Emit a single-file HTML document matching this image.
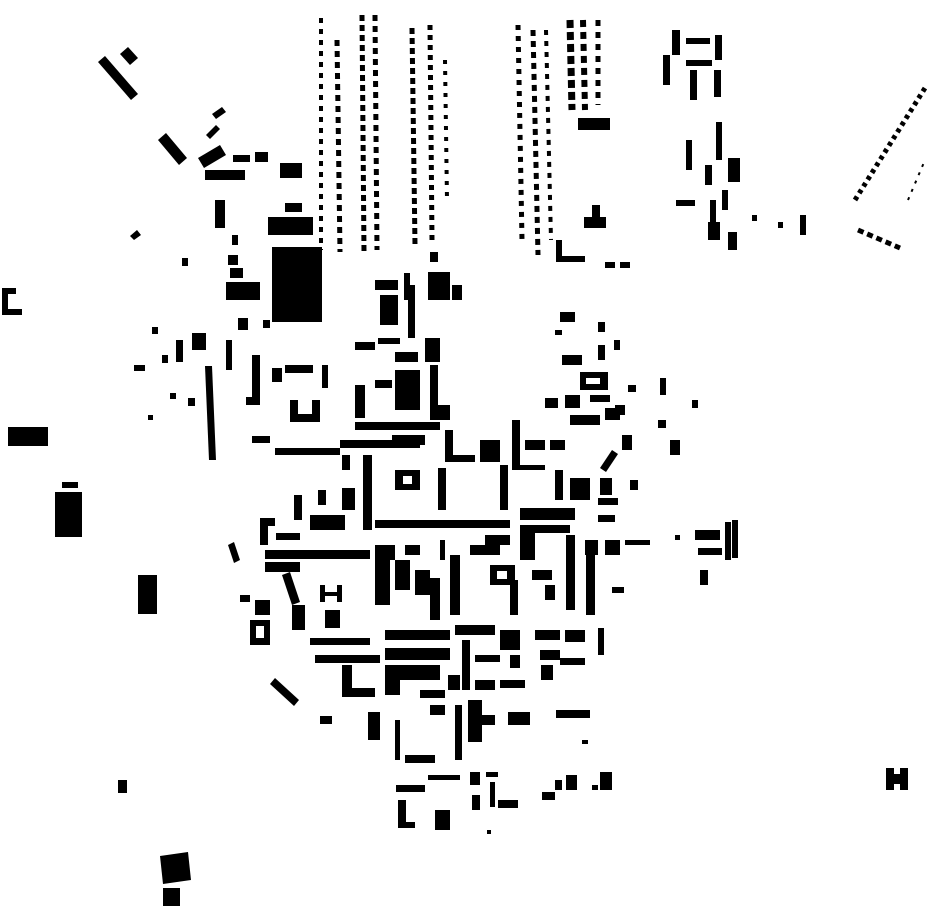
<!DOCTYPE html>
<html><head><meta charset="utf-8"><style>html,body{margin:0;padding:0;background:#fff}svg{display:block}</style></head>
<body>
<svg width="930" height="924" viewBox="0 0 930 924" xmlns="http://www.w3.org/2000/svg">
<g fill="#000" stroke="none">
<!-- NW -->
<polygon points="98,62 105,56 138,94 131,100"/>
<polygon points="120,54 128,47 138,58 130,65"/>
<polygon points="158,140 166,133 187,158 179,165"/>
<polygon points="198,158 220,145 226,155 204,168"/>
<polygon points="206,135 216,125 220,129 210,139"/>
<polygon points="212,114 222,107 226,112 216,119"/>
<rect x="205" y="170" width="40" height="10"/>
<rect x="233" y="155" width="17" height="7"/>
<rect x="255" y="152" width="13" height="10"/>
<rect x="280" y="163" width="22" height="15"/>
<rect x="215" y="200" width="10" height="28"/>
<rect x="285" y="203" width="17" height="9"/>
<rect x="268" y="217" width="45" height="18"/>
<rect x="272" y="247" width="50" height="75"/>
<polygon points="130,236 137,230 141,235 134,240"/>
<rect x="182" y="258" width="6" height="8"/>
<rect x="228" y="255" width="10" height="10"/>
<rect x="230" y="268" width="13" height="10"/>
<rect x="226" y="282" width="34" height="18"/>
<rect x="232" y="235" width="6" height="10"/>
<path d="M2,288h14v6h-8v15h14v6h-20z"/>
<rect x="238" y="318" width="10" height="12"/>
<rect x="263" y="320" width="7" height="8"/>
<rect x="152" y="327" width="6" height="7"/>
<rect x="176" y="340" width="7" height="22"/>
<rect x="192" y="333" width="14" height="17"/>
<rect x="134" y="365" width="11" height="6"/>
<rect x="162" y="355" width="6" height="8"/>
<polygon points="205,366 212,366 216,460 209,460"/>
<rect x="226" y="340" width="6" height="30"/>
<rect x="170" y="393" width="6" height="6"/>
<rect x="188" y="398" width="7" height="8"/>
<rect x="148" y="415" width="5" height="5"/>
<rect x="8" y="427" width="40" height="19"/>
<rect x="55" y="492" width="27" height="45"/>
<rect x="62" y="482" width="16" height="6"/>
<rect x="138" y="575" width="19" height="39"/>
<polygon points="228,545 234,542 240,560 234,563"/>
<rect x="118" y="780" width="9" height="13"/>
<polygon points="160,856 188,852 191,880 163,884"/>
<rect x="163" y="888" width="17" height="18"/>
</g>
<!-- dotted rows -->
<g stroke="#000" fill="none">
<line x1="321" y1="18" x2="321" y2="250" stroke-width="4" stroke-dasharray="5 6"/>
<line x1="337" y1="40" x2="340" y2="252" stroke-width="5" stroke-dasharray="6 5"/>
<line x1="362" y1="15" x2="364" y2="252" stroke-width="5" stroke-dasharray="6 4"/>
<line x1="375" y1="15" x2="377" y2="250" stroke-width="5" stroke-dasharray="6 5"/>
<line x1="412" y1="28" x2="415" y2="245" stroke-width="5" stroke-dasharray="6 4"/>
<line x1="430" y1="25" x2="432" y2="240" stroke-width="5" stroke-dasharray="5 5"/>
<line x1="445" y1="60" x2="447" y2="200" stroke-width="4" stroke-dasharray="4 7"/>
<line x1="518" y1="25" x2="522" y2="240" stroke-width="5" stroke-dasharray="5 6"/>
<line x1="533" y1="30" x2="538" y2="255" stroke-width="5" stroke-dasharray="6 5"/>
<line x1="546" y1="30" x2="551" y2="240" stroke-width="4" stroke-dasharray="5 6"/>
<line x1="570" y1="20" x2="572" y2="110" stroke-width="7" stroke-dasharray="8 4"/>
<line x1="583" y1="20" x2="585" y2="110" stroke-width="6" stroke-dasharray="7 5"/>
<line x1="598" y1="20" x2="598" y2="105" stroke-width="5" stroke-dasharray="6 6"/>
<line x1="855" y1="200" x2="925" y2="88" stroke-width="5" stroke-dasharray="4 4"/>
<line x1="908" y1="200" x2="925" y2="160" stroke-width="2" stroke-dasharray="3 6"/>
<line x1="858" y1="230" x2="900" y2="248" stroke-width="5" stroke-dasharray="6 4"/>
</g>
<g fill="#000">
<rect x="578" y="118" width="32" height="12"/>
<path d="M592,205h8v12h6v11h-22v-11h8z"/>
<path d="M556,240h6v16h23v6h-29z"/>
<rect x="605" y="262" width="10" height="6"/><rect x="620" y="262" width="10" height="6"/>
<!-- NE -->
<rect x="672" y="30" width="8" height="25"/>
<rect x="686" y="38" width="24" height="6"/>
<rect x="715" y="35" width="7" height="25"/>
<rect x="663" y="55" width="7" height="30"/>
<rect x="686" y="60" width="26" height="6"/>
<rect x="690" y="70" width="7" height="30"/>
<rect x="714" y="70" width="7" height="27"/>
<rect x="686" y="140" width="6" height="30"/>
<rect x="716" y="122" width="6" height="38"/>
<rect x="705" y="165" width="7" height="20"/>
<rect x="728" y="158" width="12" height="24"/>
<rect x="722" y="190" width="6" height="20"/>
<rect x="676" y="200" width="19" height="6"/>
<rect x="710" y="200" width="6" height="40"/>
<rect x="708" y="222" width="12" height="18"/>
<rect x="728" y="232" width="9" height="18"/>
<rect x="752" y="215" width="5" height="6"/>
<rect x="778" y="222" width="5" height="6"/>
<rect x="800" y="215" width="6" height="20"/>
<path d="M886,768h8v6h6v-6h8v22h-8v-6h-6v6h-8z"/>
<!-- centre -->
<rect x="375" y="280" width="23" height="10"/>
<rect x="380" y="295" width="18" height="30"/>
<rect x="404" y="273" width="6" height="27"/>
<rect x="408" y="285" width="7" height="53"/>
<rect x="428" y="272" width="22" height="28"/>
<rect x="452" y="285" width="10" height="15"/>
<rect x="430" y="252" width="8" height="10"/>
<rect x="355" y="342" width="20" height="8"/>
<rect x="378" y="338" width="22" height="6"/>
<rect x="395" y="352" width="23" height="10"/>
<rect x="425" y="338" width="15" height="24"/>
<path d="M252,355h8v50h-14v-8h6z"/>
<rect x="272" y="368" width="10" height="14"/>
<rect x="285" y="365" width="28" height="8"/>
<rect x="322" y="365" width="6" height="23"/>
<path d="M290,400h8v14h14v-14h8v22h-30z"/>
<rect x="355" y="385" width="10" height="33"/>
<rect x="375" y="380" width="17" height="8"/>
<rect x="395" y="370" width="25" height="40"/>
<rect x="430" y="365" width="8" height="55"/>
<rect x="433" y="405" width="17" height="15"/>
<rect x="355" y="422" width="85" height="8"/>
<rect x="252" y="436" width="18" height="7"/>
<rect x="275" y="448" width="65" height="7"/>
<rect x="340" y="440" width="80" height="8"/>
<rect x="392" y="435" width="33" height="10"/>
<path d="M445,430h8v25h22v7h-30z"/>
<rect x="480" y="440" width="20" height="22"/>
<path d="M512,420h8v45h25v5h-33z"/><rect x="525" y="440" width="20" height="10"/>
<rect x="550" y="440" width="15" height="10"/>
<rect x="570" y="415" width="30" height="10"/>
<rect x="605" y="408" width="15" height="12"/>
<rect x="622" y="435" width="10" height="15"/>
<polygon points="600,468 612,450 618,454 606,472"/>
<rect x="555" y="470" width="8" height="30"/><rect x="570" y="478" width="20" height="22"/>
<rect x="600" y="478" width="12" height="17"/>
<rect x="630" y="480" width="8" height="10"/>
<rect x="342" y="455" width="8" height="15"/>
<rect x="363" y="455" width="9" height="75"/>
<path d="M395,470h25v20h-25zM403,476v8h9v-8z" fill-rule="evenodd"/>
<rect x="438" y="468" width="8" height="42"/>
<rect x="500" y="465" width="8" height="45"/>
<rect x="294" y="495" width="8" height="25"/>
<rect x="318" y="490" width="8" height="15"/>
<rect x="342" y="488" width="13" height="22"/>
<rect x="310" y="515" width="35" height="15"/>
<path d="M260,518h15v8h-7v19h-8z"/>
<rect x="276" y="533" width="24" height="7"/>
<rect x="375" y="520" width="135" height="8"/>
<rect x="520" y="508" width="55" height="12"/>
<rect x="598" y="515" width="17" height="7"/>
<rect x="598" y="498" width="20" height="7"/>
<rect x="265" y="550" width="105" height="9"/>
<rect x="375" y="545" width="20" height="15"/>
<rect x="405" y="545" width="15" height="10"/>
<rect x="440" y="540" width="5" height="20"/>
<rect x="470" y="545" width="30" height="10"/>
<rect x="485" y="535" width="25" height="10"/>
<rect x="520" y="525" width="15" height="35"/>
<rect x="525" y="525" width="45" height="8"/>
<rect x="566" y="535" width="9" height="75"/>
<rect x="585" y="540" width="13" height="15"/>
<rect x="605" y="540" width="15" height="15"/>
<rect x="625" y="540" width="25" height="5"/>
<rect x="675" y="535" width="5" height="5"/>
<rect x="695" y="530" width="25" height="10"/>
<rect x="698" y="548" width="24" height="7"/>
<rect x="725" y="522" width="6" height="38"/>
<rect x="732" y="520" width="6" height="38"/>
<rect x="700" y="570" width="8" height="15"/>
<rect x="265" y="562" width="35" height="10"/>
<polygon points="282,575 290,572 300,602 292,605"/>
<path d="M320,585h5v7h12v-7h5v17h-5v-6h-12v6h-5z"/>
<rect x="375" y="558" width="15" height="47"/>
<rect x="395" y="560" width="15" height="30"/>
<rect x="415" y="570" width="15" height="25"/>
<rect x="430" y="578" width="10" height="42"/>
<rect x="450" y="555" width="10" height="60"/>
<path d="M490,565h25v20h-25zM497,571v8h10v-8z" fill-rule="evenodd"/>
<rect x="510" y="580" width="8" height="35"/>
<rect x="532" y="570" width="20" height="10"/>
<rect x="545" y="585" width="10" height="15"/>
<rect x="586" y="555" width="9" height="60"/>
<rect x="612" y="587" width="12" height="6"/>
<rect x="240" y="595" width="10" height="7"/>
<rect x="255" y="600" width="15" height="15"/>
<path d="M250,620h20v25h-20zM256,626v12h8v-12z" fill-rule="evenodd"/>
<rect x="292" y="605" width="13" height="25"/>
<rect x="325" y="610" width="15" height="18"/>
<rect x="310" y="638" width="60" height="7"/>
<rect x="385" y="630" width="65" height="10"/>
<rect x="455" y="625" width="40" height="10"/>
<rect x="500" y="630" width="20" height="20"/>
<rect x="535" y="630" width="25" height="10"/>
<rect x="565" y="630" width="20" height="12"/>
<rect x="598" y="628" width="6" height="27"/>
<rect x="315" y="655" width="65" height="8"/>
<rect x="385" y="648" width="65" height="12"/>
<rect x="462" y="640" width="8" height="50"/>
<rect x="475" y="655" width="25" height="7"/>
<rect x="510" y="655" width="10" height="13"/>
<rect x="540" y="650" width="20" height="10"/>
<rect x="560" y="658" width="25" height="7"/>
<rect x="541" y="665" width="12" height="15"/>
<path d="M342,665h10v23h23v9h-33z"/>
<rect x="385" y="665" width="15" height="30"/>
<rect x="400" y="665" width="40" height="15"/>
<rect x="420" y="690" width="25" height="8"/>
<rect x="448" y="675" width="12" height="15"/>
<rect x="475" y="680" width="20" height="10"/>
<rect x="500" y="680" width="25" height="8"/>
<polygon points="270,684 275,678 299,700 294,706"/>
<rect x="320" y="716" width="12" height="8"/>
<rect x="368" y="712" width="12" height="28"/>
<rect x="395" y="720" width="5" height="40"/>
<rect x="405" y="755" width="30" height="8"/>
<rect x="430" y="705" width="15" height="10"/>
<rect x="455" y="705" width="7" height="55"/>
<rect x="468" y="700" width="14" height="42"/>
<rect x="480" y="715" width="15" height="10"/>
<rect x="508" y="712" width="22" height="13"/>
<rect x="556" y="710" width="34" height="8"/>
<rect x="582" y="740" width="6" height="4"/>
<rect x="396" y="785" width="29" height="7"/>
<rect x="428" y="775" width="32" height="5"/>
<rect x="470" y="772" width="10" height="13"/>
<path d="M398,800h8v22h9v6h-17z"/>
<rect x="435" y="810" width="15" height="20"/>
<rect x="472" y="795" width="8" height="15"/>
<rect x="486" y="772" width="12" height="5"/><rect x="490" y="782" width="5" height="25"/><rect x="487" y="830" width="4" height="4"/>
<rect x="498" y="800" width="20" height="8"/>
<rect x="542" y="792" width="13" height="8"/>
<rect x="555" y="780" width="7" height="10"/>
<rect x="566" y="775" width="11" height="15"/>
<rect x="592" y="785" width="6" height="5"/>
<rect x="600" y="772" width="12" height="18"/>
<!-- east scattered -->
<rect x="545" y="398" width="13" height="10"/>
<rect x="565" y="395" width="15" height="13"/>
<rect x="590" y="395" width="20" height="7"/>
<rect x="560" y="312" width="15" height="10"/>
<rect x="598" y="322" width="7" height="10"/>
<rect x="555" y="330" width="7" height="5"/>
<rect x="562" y="355" width="20" height="10"/>
<path d="M580,372h28v18h-28zM586,378v6h14v-6z" fill-rule="evenodd"/>
<rect x="598" y="345" width="7" height="15"/>
<rect x="614" y="340" width="6" height="10"/>
<rect x="615" y="405" width="10" height="10"/>
<rect x="628" y="385" width="8" height="7"/>
<rect x="660" y="378" width="6" height="17"/>
<rect x="658" y="420" width="8" height="8"/>
<rect x="670" y="440" width="10" height="15"/>
<rect x="692" y="400" width="6" height="8"/>
</g>
</svg>
</body></html>
